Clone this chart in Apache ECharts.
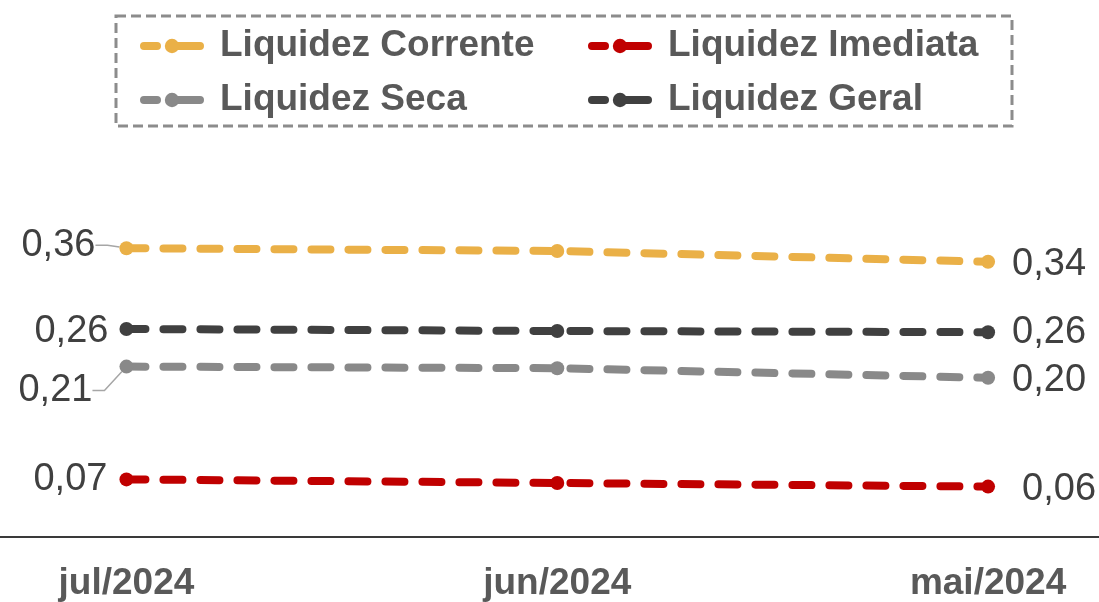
<!DOCTYPE html>
<html>
<head>
<meta charset="utf-8">
<script src="https://cdn.jsdelivr.net/npm/echarts@6/dist/echarts.min.js"></script>
<style>html,body{margin:0;padding:0;background:#fff}#c{width:1099px;height:602px}</style>
</head>
<body>
<div id="c"></div>
<script>
// ---- data ----
const categories = ['jul/2024', 'jun/2024', 'mai/2024'];
const seriesNames = ['Liquidez Corrente', 'Liquidez Imediata', 'Liquidez Seca', 'Liquidez Geral'];
const corrente = [0.361, 0.3575, 0.344];
const imediata = [0.072, 0.0675, 0.063];
const seca = [0.213, 0.211, 0.199];
const geral = [0.26, 0.2575, 0.256];

// ---- styling ----
const FONT = '"Liberation Sans", Arial, sans-serif';
const colors = ['#EAB047', '#C00000', '#898989', '#404040'];
const values = [corrente, imediata, seca, geral];

// label placement per series: [first, last]
const labelCfg = [
  [{position: 'left', distance: 24}, {position: 'right', distance: 17}],
  [{position: 'left', distance: 12}, {position: 'right', distance: 27}],
  [{position: 'left', distance: 27}, {position: 'right', distance: 17}],
  [{position: 'left', distance: 11}, {position: 'right', distance: 17}]
];
const layoutCfg = [
  [{dx: 0, dy: -3}, null, {dx: 0, dy: 3}],
  [{dx: 0, dy: 0}, null, {dx: 0, dy: 3}],
  [{dx: 0, dy: 24}, null, {dx: 0, dy: 3}],
  [{dx: 0, dy: 3}, null, {dx: 0, dy: 0}]
];
const guideLine = [true, false, true, false];

const fmt = v => v.toFixed(2).replace('.', ',');

const series = seriesNames.map((name, s) => ({
  name: name,
  type: 'line',
  data: values[s].map((v, i) => {
    const item = {value: [i, v]};
    if (i === 0 || i === values[s].length - 1) {
      const cfg = labelCfg[s][i === 0 ? 0 : 1];
      item.label = Object.assign({show: true}, cfg);
      if (i === 0 && guideLine[s]) {
        item.labelLine = {show: true, length2: 12, lineStyle: {color: '#A6A6A6', width: 1.5}};
      }
    } else {
      item.label = {show: false};
    }
    return item;
  }),
  symbol: 'circle',
  symbolSize: 14,
  itemStyle: {color: colors[s]},
  lineStyle: {color: colors[s], width: 8, type: [19, 18], cap: 'round'},
  label: {
    color: '#404040',
    fontFamily: FONT,
    fontSize: 38,
    formatter: p => fmt(p.value[1])
  },
  labelLine: {show: false},
  labelLayout: p => {
    const l = layoutCfg[p.seriesIndex][p.dataIndex];
    return l ? {dx: l.dx, dy: l.dy} : {};
  },
  animation: false,
  z: 10 - s
}));

const legendBase = {
  orient: 'vertical',
  top: 21,
  itemWidth: 56,
  itemHeight: 18,
  itemGap: 14,
  lineStyle: {width: 8, type: [13, 13, 40, 0], cap: 'round'},
  textStyle: {
    color: '#595959',
    fontFamily: FONT,
    fontSize: 37,
    fontWeight: 'bold',
    lineHeight: 40,
    padding: [0, 0, 0, 15]
  },
  selectedMode: false
};

const chart = echarts.init(document.getElementById('c'), null, {renderer: 'canvas'});
chart.setOption({
  animation: false,
  backgroundColor: '#fff',
  legend: [
    Object.assign({}, legendBase, {left: 135, data: [seriesNames[0], seriesNames[2]]}),
    Object.assign({}, legendBase, {left: 583, data: [seriesNames[1], seriesNames[3]]})
  ],
  graphic: [{
    type: 'rect',
    shape: {x: 116, y: 16, width: 896, height: 110},
    style: {fill: 'none', stroke: '#8C8C8C', lineWidth: 3, lineDash: [10, 5]},
    silent: true
  }],
  grid: {left: 0, right: 0, top: 137, bottom: 65},
  xAxis: {
    type: 'value',
    min: -0.2935,
    max: 2.2575,
    splitLine: {show: false},
    axisLine: {show: true, onZero: false, lineStyle: {color: '#3A3A3A', width: 2}},
    axisTick: {show: false},
    axisLabel: {
      customValues: [0, 1, 2],
      formatter: v => categories[Math.round(v)],
      color: '#595959',
      fontFamily: FONT,
      fontSize: 37,
      fontWeight: 'bold',
      margin: 28
    }
  },
  yAxis: {
    type: 'value',
    min: 0,
    max: 0.5,
    show: false,
    splitLine: {show: false}
  },
  series: series
});
</script>
</body>
</html>
